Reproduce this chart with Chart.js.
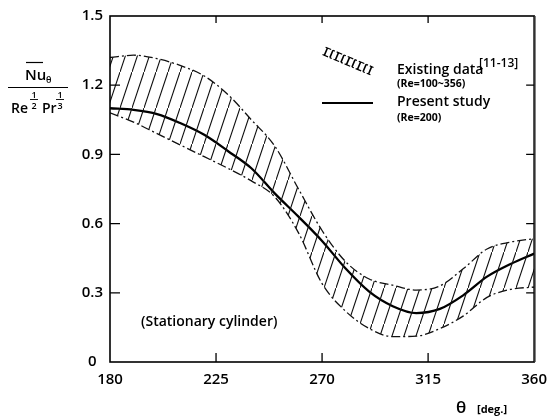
<!DOCTYPE html>
<html><head><meta charset="utf-8">
<script src="https://cdn.jsdelivr.net/npm/chart.js@4.4.1/dist/chart.umd.min.js"></script>
<style>html,body{margin:0;padding:0;background:#fff;}#wrap{width:556px;height:418px;}</style>
</head><body><div id="wrap"><canvas id="c" width="556" height="418"></canvas></div>
<script>
const theta = [180,190,200,210,220,230,240,250,260,270,280,290,300,310,320,330,340,350,360];
const existingUpper = [1.32,1.33,1.315,1.285,1.24,1.16,1.05,0.935,0.75,0.57,0.435,0.36,0.333,0.312,0.33,0.405,0.49,0.52,0.535];
const existingLower = [1.08,1.04,0.99,0.94,0.89,0.84,0.785,0.715,0.56,0.34,0.22,0.145,0.11,0.112,0.145,0.20,0.28,0.315,0.325];
const presentStudy  = [1.10,1.093,1.075,1.035,0.985,0.915,0.84,0.73,0.63,0.525,0.405,0.305,0.242,0.212,0.23,0.29,0.37,0.425,0.47];
const xTicks = [180,225,270,315,360];
const xTickLabels = ['180','225','270','315','360'];
const yTicks = [0,0.3,0.6,0.9,1.2,1.5];
const yTickLabels = ['0','0.3','0.6','0.9','1.2','1.5'];
const legendExisting = ['Existing data','[11-13]','(Re=100~356)'];
const legendPresent = ['Present study','(Re=200)'];
const noteText = '(Stationary cylinder)';
const xTitle = 'θ', xUnit = '[deg.]';
const yNum = 'Nu', ySub = 'θ', yDen1 = 'Re', yDen2 = 'Pr';

const FONT = '"Open Sans", "DejaVu Sans", sans-serif';

function hatchPattern(){
  const w = 12, h = 36;
  const c = document.createElement('canvas'); c.width = w; c.height = h;
  const g = c.getContext('2d');
  g.strokeStyle = '#111'; g.lineWidth = 1.15;
  g.beginPath(); g.moveTo(-w, 2*h); g.lineTo(2*w, -h); g.stroke();
  return g.createPattern(c, 'repeat');
}

const toPts = arr => theta.map((t,i)=>({x:t, y:arr[i]}));

const decor = {
  id: 'decor',
  afterDraw(chart){
    const ctx = chart.ctx, a = chart.chartArea;
    const xs = chart.scales.x, ys = chart.scales.y;
    ctx.save();
    ctx.strokeStyle = '#000'; ctx.fillStyle = '#000';
    // frame
    ctx.lineWidth = 1.6;
    ctx.strokeRect(a.left, a.top, a.right - a.left, a.bottom - a.top);
    ctx.lineWidth = 1.2;
    ctx.beginPath(); ctx.moveTo(a.right+1, a.top); ctx.lineTo(a.right+1, a.bottom); ctx.strokeStyle='#555'; ctx.stroke();
    ctx.strokeStyle = '#000';
    // inner ticks
    ctx.lineWidth = 1.3;
    ctx.beginPath();
    yTicks.forEach(v => {
      if (v === 0 || v === 1.5) return;
      const y = ys.getPixelForValue(v);
      ctx.moveTo(a.left, y); ctx.lineTo(a.left + 10, y);
      ctx.moveTo(a.right, y); ctx.lineTo(a.right - 8, y);
    });
    xTicks.forEach(v => {
      if (v === 180 || v === 360) return;
      const x = xs.getPixelForValue(v);
      ctx.moveTo(x, a.bottom); ctx.lineTo(x, a.bottom - 9);
      ctx.moveTo(x, a.top); ctx.lineTo(x, a.top + 7);
    });
    ctx.stroke();

    // y-axis label (fraction)
    ctx.textAlign = 'left'; ctx.textBaseline = 'alphabetic';
    ctx.font = '600 15px ' + FONT;
    ctx.fillText(yNum, 25, 80);
    ctx.lineWidth = 1.2;
    ctx.beginPath(); ctx.moveTo(26, 62.5); ctx.lineTo(43, 62.5); ctx.stroke();
    ctx.font = '600 9px ' + FONT;
    ctx.fillText(ySub, 46, 83);
    ctx.beginPath(); ctx.moveTo(8, 87.5); ctx.lineTo(68, 87.5); ctx.stroke();
    ctx.font = '600 14px ' + FONT;
    ctx.fillText(yDen1, 11, 113);
    ctx.fillText(yDen2, 42, 113);
    ctx.font = '600 9px ' + FONT; ctx.textAlign = 'center';
    ctx.fillText('1', 34, 98); ctx.fillText('2', 34, 109);
    ctx.fillText('1', 60, 98); ctx.fillText('3', 60, 109);
    ctx.lineWidth = 0.9;
    ctx.beginPath(); ctx.moveTo(30, 99.5); ctx.lineTo(38, 99.5); ctx.moveTo(56, 99.5); ctx.lineTo(64, 99.5); ctx.stroke();

    // legend: hatch icon
    ctx.save();
    ctx.translate(348, 61); ctx.rotate(0.40);
    ctx.lineWidth = 1.2;
    ctx.setLineDash([6,2,2,2]);
    ctx.beginPath(); ctx.moveTo(-26,-4); ctx.lineTo(26,-4); ctx.moveTo(-26,4); ctx.lineTo(26,4); ctx.stroke();
    ctx.setLineDash([]);
    ctx.lineWidth = 1.6;
    ctx.beginPath();
    for (let k = -24; k <= 24; k += 6) { ctx.moveTo(k, -4); ctx.lineTo(k, 4); }
    ctx.stroke();
    ctx.restore();
    // legend texts
    ctx.textAlign = 'left';
    ctx.font = '600 14px ' + FONT;
    ctx.fillText(legendExisting[0], 397, 74);
    ctx.font = '600 12px ' + FONT;
    ctx.fillText(legendExisting[1], 479, 67);
    ctx.font = 'bold 10.5px ' + FONT;
    ctx.fillText(legendExisting[2], 397, 87);
    ctx.lineWidth = 2;
    ctx.beginPath(); ctx.moveTo(322, 103); ctx.lineTo(373, 103); ctx.stroke();
    ctx.font = '600 14px ' + FONT;
    ctx.fillText(legendPresent[0], 397, 106);
    ctx.font = 'bold 10.5px ' + FONT;
    ctx.fillText(legendPresent[1], 397, 121);

    // note
    ctx.font = '600 14px ' + FONT;
    ctx.fillText(noteText, 141, 326);
    // x title
    ctx.font = '600 17px ' + FONT;
    ctx.fillText(xTitle, 456, 413);
    ctx.font = 'bold 11px ' + FONT;
    ctx.fillText(xUnit, 477, 413);
    ctx.restore();
  }
};

new Chart(document.getElementById('c'), {
  type: 'line',
  data: {
    datasets: [
      { label: 'upper', data: toPts(existingUpper), borderColor: '#111', borderWidth: 1.3,
        borderDash: [9,3,2,3], pointRadius: 0, fill: false, cubicInterpolationMode: 'monotone' },
      { label: 'lower', data: toPts(existingLower), borderColor: '#111', borderWidth: 1.3,
        borderDash: [9,3,2,3], pointRadius: 0, fill: '-1', backgroundColor: hatchPattern(),
        cubicInterpolationMode: 'monotone' },
      { label: 'present', data: toPts(presentStudy), borderColor: '#000', borderWidth: 2.3,
        pointRadius: 0, fill: false, cubicInterpolationMode: 'monotone' }
    ]
  },
  options: {
    responsive: false, animation: false, devicePixelRatio: 1,
    layout: { padding: { top: 15, right: 13, left: 0, bottom: 0 } },
    plugins: { legend: { display: false }, tooltip: { enabled: false } },
    scales: {
      x: {
        type: 'linear', min: 180, max: 360,
        afterFit: s => { s.height = 56; },
        afterBuildTicks: s => { s.ticks = xTicks.map(v => ({ value: v })); },
        ticks: { callback: (v, i) => xTickLabels[i], color: '#000', padding: 9,
                 font: { family: FONT, size: 15, weight: '600' }, maxRotation: 0, autoSkip: false },
        grid: { display: false, drawTicks: false },
        border: { display: false }
      },
      y: {
        type: 'linear', min: 0, max: 1.5,
        afterFit: s => { s.width = 110; },
        afterBuildTicks: s => { s.ticks = yTicks.map(v => ({ value: v })); },
        ticks: { callback: (v, i) => yTickLabels[i], color: '#000', padding: 7, crossAlign: 'center',
                 font: { family: FONT, size: 15, weight: '600' }, autoSkip: false },
        grid: { display: false, drawTicks: false },
        border: { display: false }
      }
    }
  },
  plugins: [decor]
});
</script>
</body></html>
